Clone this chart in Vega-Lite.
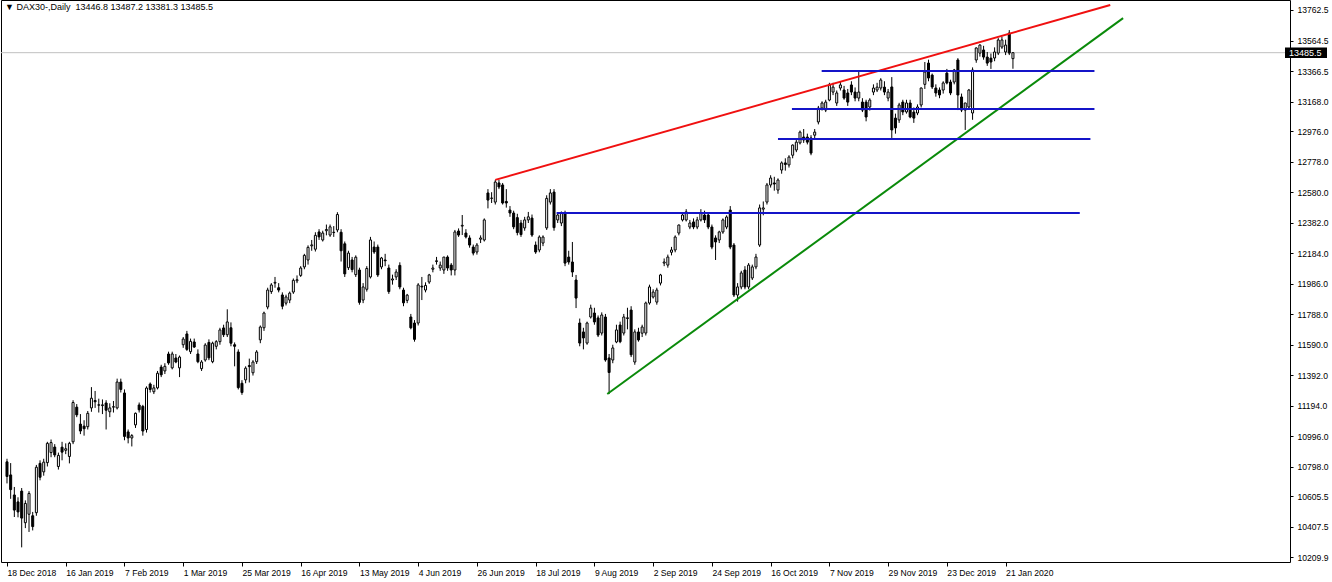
{
"$schema": "https://vega.github.io/schema/vega-lite/v6.json",
"width": 1289, "height": 562,
"autosize": {"type": "none"},
"padding": {"left": 1, "top": 0, "right": 42, "bottom": 20},
"background": "white",
"config": {
"view": {"stroke": "black", "strokeWidth": 1},
"axis": {"labelOverlap": false, "labelFlush": false, "labelBound": false, "domain": false, "grid": false, "tickColor": "black", "tickWidth": 1, "labelFont": "Liberation Sans", "labelFontSize": 8.6, "labelColor": "black", "title": null, "tickCount": 60},
"axisY": {"tickSize": 3, "labelPadding": 4},
"axisX": {"tickSize": 4, "labelAlign": "left", "labelBaseline": "top", "labelPadding": 2}
},
"title": {"text": "▼ DAX30-,Daily\u00a0 13446.8 13487.2 13381.3 13485.5", "anchor": "start", "frame": "group", "offset": -12, "dx": 4, "font": "Liberation Sans", "fontSize": 9, "fontWeight": "normal", "color": "black"},
"datasets": {
"candles": [
{"i":0,"o":10830,"h":10850,"l":10690,"c":10735},
{"i":1,"o":10745,"h":10822,"l":10590,"c":10650},
{"i":2,"o":10615,"h":10667,"l":10472,"c":10517},
{"i":3,"o":10570,"h":10600,"l":10470,"c":10505},
{"i":4,"o":10640,"h":10660,"l":10275,"c":10465},
{"i":5,"o":10435,"h":10580,"l":10400,"c":10560},
{"i":6,"o":10490,"h":10640,"l":10375,"c":10625},
{"i":7,"o":10480,"h":10505,"l":10385,"c":10410},
{"i":8,"o":10500,"h":10810,"l":10480,"c":10795},
{"i":9,"o":10820,"h":10840,"l":10710,"c":10730},
{"i":10,"o":10765,"h":10850,"l":10740,"c":10828},
{"i":11,"o":10825,"h":10960,"l":10800,"c":10950},
{"i":12,"o":10890,"h":10975,"l":10860,"c":10955},
{"i":13,"o":10926,"h":10945,"l":10860,"c":10875},
{"i":14,"o":10800,"h":10890,"l":10780,"c":10872},
{"i":15,"o":10925,"h":10960,"l":10840,"c":10893},
{"i":16,"o":10905,"h":10950,"l":10880,"c":10915},
{"i":17,"o":10865,"h":10960,"l":10820,"c":10950},
{"i":18,"o":10960,"h":11230,"l":10945,"c":11215},
{"i":19,"o":11185,"h":11205,"l":11120,"c":11135},
{"i":20,"o":11075,"h":11140,"l":11010,"c":11030},
{"i":21,"o":11062,"h":11100,"l":11000,"c":11045},
{"i":22,"o":11058,"h":11160,"l":11040,"c":11145},
{"i":23,"o":11180,"h":11315,"l":11155,"c":11243},
{"i":24,"o":11228,"h":11290,"l":11180,"c":11220},
{"i":25,"o":11200,"h":11240,"l":11150,"c":11198},
{"i":26,"o":11195,"h":11235,"l":11140,"c":11200},
{"i":27,"o":11212,"h":11230,"l":11040,"c":11165},
{"i":28,"o":11155,"h":11210,"l":11120,"c":11180},
{"i":29,"o":11185,"h":11225,"l":11150,"c":11188},
{"i":30,"o":11180,"h":11370,"l":11170,"c":11348},
{"i":31,"o":11348,"h":11370,"l":11280,"c":11300},
{"i":32,"o":11277,"h":11300,"l":10970,"c":10995},
{"i":33,"o":11024,"h":11040,"l":10950,"c":10985},
{"i":34,"o":10985,"h":11010,"l":10930,"c":11000},
{"i":35,"o":11070,"h":11150,"l":11050,"c":11145},
{"i":36,"o":11199,"h":11215,"l":11150,"c":11168},
{"i":37,"o":11190,"h":11200,"l":11000,"c":11030},
{"i":38,"o":11040,"h":11320,"l":11020,"c":11309},
{"i":39,"o":11335,"h":11345,"l":11280,"c":11300},
{"i":40,"o":11285,"h":11330,"l":11270,"c":11310},
{"i":41,"o":11310,"h":11420,"l":11300,"c":11405},
{"i":42,"o":11445,"h":11460,"l":11380,"c":11395},
{"i":43,"o":11420,"h":11470,"l":11400,"c":11450},
{"i":44,"o":11530,"h":11545,"l":11460,"c":11472},
{"i":45,"o":11440,"h":11545,"l":11430,"c":11530},
{"i":46,"o":11504,"h":11530,"l":11470,"c":11478},
{"i":47,"o":11440,"h":11520,"l":11380,"c":11510},
{"i":48,"o":11590,"h":11640,"l":11570,"c":11627},
{"i":49,"o":11660,"h":11680,"l":11550,"c":11560},
{"i":50,"o":11545,"h":11630,"l":11530,"c":11612},
{"i":51,"o":11608,"h":11630,"l":11570,"c":11575},
{"i":52,"o":11530,"h":11560,"l":11470,"c":11480},
{"i":53,"o":11435,"h":11490,"l":11420,"c":11478},
{"i":54,"o":11491,"h":11600,"l":11480,"c":11588},
{"i":55,"o":11605,"h":11625,"l":11490,"c":11505},
{"i":56,"o":11480,"h":11610,"l":11470,"c":11600},
{"i":57,"o":11580,"h":11620,"l":11560,"c":11610},
{"i":58,"o":11610,"h":11700,"l":11590,"c":11686},
{"i":59,"o":11699,"h":11720,"l":11640,"c":11655},
{"i":60,"o":11655,"h":11820,"l":11640,"c":11738},
{"i":61,"o":11700,"h":11735,"l":11580,"c":11600},
{"i":62,"o":11590,"h":11605,"l":11450,"c":11580},
{"i":63,"o":11543,"h":11560,"l":11300,"c":11312},
{"i":64,"o":11340,"h":11360,"l":11265,"c":11280},
{"i":65,"o":11362,"h":11450,"l":11340,"c":11438},
{"i":66,"o":11455,"h":11500,"l":11345,"c":11448},
{"i":67,"o":11408,"h":11490,"l":11390,"c":11478},
{"i":68,"o":11480,"h":11555,"l":11465,"c":11543},
{"i":69,"o":11622,"h":11715,"l":11600,"c":11705},
{"i":70,"o":11700,"h":11805,"l":11680,"c":11796},
{"i":71,"o":11835,"h":11960,"l":11820,"c":11945},
{"i":72,"o":11935,"h":11990,"l":11920,"c":11978},
{"i":73,"o":11990,"h":12030,"l":11960,"c":11995},
{"i":74,"o":11960,"h":11990,"l":11930,"c":11945},
{"i":75,"o":11913,"h":11930,"l":11820,"c":11840},
{"i":76,"o":11860,"h":11915,"l":11845,"c":11900},
{"i":77,"o":11880,"h":11935,"l":11860,"c":11925},
{"i":78,"o":11932,"h":12020,"l":11920,"c":12008},
{"i":79,"o":12005,"h":12040,"l":11990,"c":12012},
{"i":80,"o":12040,"h":12100,"l":12030,"c":12088},
{"i":81,"o":12095,"h":12180,"l":12080,"c":12170},
{"i":82,"o":12140,"h":12235,"l":12110,"c":12222},
{"i":83,"o":12232,"h":12270,"l":12200,"c":12238},
{"i":84,"o":12210,"h":12320,"l":12195,"c":12300},
{"i":85,"o":12322,"h":12340,"l":12270,"c":12290},
{"i":86,"o":12270,"h":12330,"l":12260,"c":12315},
{"i":87,"o":12330,"h":12370,"l":12300,"c":12338},
{"i":88,"o":12302,"h":12370,"l":12290,"c":12355},
{"i":89,"o":12320,"h":12360,"l":12290,"c":12318},
{"i":90,"o":12335,"h":12450,"l":12320,"c":12435},
{"i":91,"o":12320,"h":12340,"l":12130,"c":12200},
{"i":92,"o":12245,"h":12260,"l":12030,"c":12050},
{"i":93,"o":12090,"h":12200,"l":12075,"c":12185},
{"i":94,"o":12140,"h":12160,"l":12060,"c":12078},
{"i":95,"o":12045,"h":12170,"l":12030,"c":12158},
{"i":96,"o":12075,"h":12090,"l":11850,"c":11865},
{"i":97,"o":11880,"h":11990,"l":11860,"c":11965},
{"i":98,"o":11950,"h":12100,"l":11935,"c":12085},
{"i":99,"o":12030,"h":12290,"l":12020,"c":12270},
{"i":100,"o":12224,"h":12260,"l":12180,"c":12192},
{"i":101,"o":12224,"h":12240,"l":12030,"c":12043},
{"i":102,"o":12095,"h":12160,"l":12080,"c":12153},
{"i":103,"o":12140,"h":12180,"l":12100,"c":12135},
{"i":104,"o":12088,"h":12110,"l":11920,"c":11935},
{"i":105,"o":12010,"h":12045,"l":11980,"c":12017},
{"i":106,"o":12030,"h":12080,"l":12010,"c":12062},
{"i":107,"o":12105,"h":12125,"l":11950,"c":11965},
{"i":108,"o":11945,"h":11960,"l":11840,"c":11862},
{"i":109,"o":11878,"h":11920,"l":11860,"c":11912},
{"i":110,"o":11770,"h":11790,"l":11690,"c":11700},
{"i":111,"o":11731,"h":11750,"l":11610,"c":11625},
{"i":112,"o":11731,"h":11990,"l":11715,"c":11978},
{"i":113,"o":11970,"h":12030,"l":11880,"c":11965},
{"i":114,"o":11945,"h":11995,"l":11930,"c":11975},
{"i":115,"o":11997,"h":12050,"l":11985,"c":12043},
{"i":116,"o":12080,"h":12110,"l":12060,"c":12088},
{"i":117,"o":12130,"h":12160,"l":12110,"c":12135},
{"i":118,"o":12088,"h":12130,"l":12070,"c":12107},
{"i":119,"o":12075,"h":12160,"l":12050,"c":12159},
{"i":120,"o":12159,"h":12170,"l":12070,"c":12088},
{"i":121,"o":12107,"h":12120,"l":12040,"c":12075},
{"i":122,"o":12075,"h":12335,"l":12040,"c":12322},
{"i":123,"o":12328,"h":12345,"l":12290,"c":12302},
{"i":124,"o":12360,"h":12432,"l":12302,"c":12365},
{"i":125,"o":12315,"h":12340,"l":12280,"c":12290},
{"i":126,"o":12283,"h":12300,"l":12220,"c":12237},
{"i":127,"o":12224,"h":12240,"l":12170,"c":12185},
{"i":128,"o":12192,"h":12250,"l":12175,"c":12237},
{"i":129,"o":12275,"h":12300,"l":12250,"c":12283},
{"i":130,"o":12270,"h":12410,"l":12260,"c":12400},
{"i":131,"o":12575,"h":12600,"l":12475,"c":12529},
{"i":132,"o":12540,"h":12580,"l":12510,"c":12542},
{"i":133,"o":12516,"h":12660,"l":12500,"c":12646},
{"i":134,"o":12640,"h":12660,"l":12600,"c":12614},
{"i":135,"o":12627,"h":12640,"l":12500,"c":12510},
{"i":136,"o":12520,"h":12600,"l":12480,"c":12510},
{"i":137,"o":12464,"h":12490,"l":12420,"c":12445},
{"i":138,"o":12445,"h":12460,"l":12340,"c":12355},
{"i":139,"o":12415,"h":12440,"l":12300,"c":12318},
{"i":140,"o":12380,"h":12400,"l":12290,"c":12305},
{"i":141,"o":12348,"h":12420,"l":12330,"c":12400},
{"i":142,"o":12400,"h":12452,"l":12380,"c":12420},
{"i":143,"o":12412,"h":12435,"l":12290,"c":12302},
{"i":144,"o":12237,"h":12260,"l":12180,"c":12192},
{"i":145,"o":12205,"h":12300,"l":12190,"c":12289},
{"i":146,"o":12250,"h":12300,"l":12230,"c":12289},
{"i":147,"o":12348,"h":12560,"l":12335,"c":12540},
{"i":148,"o":12516,"h":12600,"l":12500,"c":12575},
{"i":149,"o":12581,"h":12600,"l":12330,"c":12350},
{"i":150,"o":12400,"h":12440,"l":12380,"c":12432},
{"i":151,"o":12380,"h":12455,"l":12360,"c":12445},
{"i":152,"o":12445,"h":12460,"l":12100,"c":12120},
{"i":153,"o":12159,"h":12200,"l":12110,"c":12127},
{"i":154,"o":12127,"h":12257,"l":12030,"c":12062},
{"i":155,"o":12010,"h":12043,"l":11828,"c":11893},
{"i":156,"o":11731,"h":11760,"l":11580,"c":11601},
{"i":157,"o":11673,"h":11700,"l":11560,"c":11634},
{"i":158,"o":11601,"h":11740,"l":11590,"c":11731},
{"i":159,"o":11770,"h":11850,"l":11760,"c":11828},
{"i":160,"o":11796,"h":11830,"l":11720,"c":11738},
{"i":161,"o":11764,"h":11780,"l":11640,"c":11653},
{"i":162,"o":11666,"h":11800,"l":11650,"c":11783},
{"i":163,"o":11770,"h":11790,"l":11480,"c":11491},
{"i":164,"o":11504,"h":11530,"l":11270,"c":11410},
{"i":165,"o":11491,"h":11590,"l":11470,"c":11569},
{"i":166,"o":11608,"h":11720,"l":11600,"c":11686},
{"i":167,"o":11718,"h":11740,"l":11600,"c":11610},
{"i":168,"o":11666,"h":11790,"l":11650,"c":11770},
{"i":169,"o":11760,"h":11830,"l":11690,"c":11765},
{"i":170,"o":11815,"h":11840,"l":11510,"c":11525},
{"i":171,"o":11478,"h":11690,"l":11460,"c":11673},
{"i":172,"o":11673,"h":11700,"l":11610,"c":11621},
{"i":173,"o":11665,"h":11720,"l":11640,"c":11705},
{"i":174,"o":11666,"h":11870,"l":11650,"c":11861},
{"i":175,"o":11861,"h":11980,"l":11850,"c":11965},
{"i":176,"o":11900,"h":11950,"l":11890,"c":11932},
{"i":177,"o":11867,"h":11960,"l":11850,"c":11945},
{"i":178,"o":11990,"h":12050,"l":11975,"c":12043},
{"i":179,"o":12120,"h":12150,"l":12100,"c":12127},
{"i":180,"o":12107,"h":12175,"l":12090,"c":12159},
{"i":181,"o":12190,"h":12225,"l":12170,"c":12205},
{"i":182,"o":12205,"h":12300,"l":12190,"c":12289},
{"i":183,"o":12315,"h":12370,"l":12300,"c":12367},
{"i":184,"o":12400,"h":12440,"l":12390,"c":12432},
{"i":185,"o":12400,"h":12470,"l":12390,"c":12452},
{"i":186,"o":12354,"h":12400,"l":12340,"c":12380},
{"i":187,"o":12387,"h":12410,"l":12340,"c":12354},
{"i":188,"o":12354,"h":12420,"l":12340,"c":12400},
{"i":189,"o":12400,"h":12470,"l":12390,"c":12445},
{"i":190,"o":12432,"h":12460,"l":12380,"c":12400},
{"i":191,"o":12432,"h":12450,"l":12340,"c":12354},
{"i":192,"o":12354,"h":12370,"l":12210,"c":12224},
{"i":193,"o":12283,"h":12300,"l":12140,"c":12257},
{"i":194,"o":12270,"h":12330,"l":12250,"c":12322},
{"i":195,"o":12322,"h":12410,"l":12310,"c":12400},
{"i":196,"o":12354,"h":12430,"l":12340,"c":12419},
{"i":197,"o":12464,"h":12490,"l":12210,"c":12224},
{"i":198,"o":12237,"h":12250,"l":11900,"c":11913},
{"i":199,"o":11913,"h":11990,"l":11870,"c":11965},
{"i":200,"o":11965,"h":12070,"l":11950,"c":12056},
{"i":201,"o":12075,"h":12100,"l":11950,"c":11965},
{"i":202,"o":11965,"h":12120,"l":11950,"c":12107},
{"i":203,"o":12023,"h":12110,"l":12010,"c":12095},
{"i":204,"o":12095,"h":12180,"l":12080,"c":12159},
{"i":205,"o":12237,"h":12500,"l":12225,"c":12478},
{"i":206,"o":12470,"h":12520,"l":12430,"c":12478},
{"i":207,"o":12516,"h":12640,"l":12500,"c":12627},
{"i":208,"o":12627,"h":12690,"l":12610,"c":12672},
{"i":209,"o":12640,"h":12680,"l":12590,"c":12633},
{"i":210,"o":12594,"h":12670,"l":12570,"c":12659},
{"i":211,"o":12724,"h":12780,"l":12700,"c":12770},
{"i":212,"o":12770,"h":12800,"l":12720,"c":12760},
{"i":213,"o":12757,"h":12820,"l":12740,"c":12808},
{"i":214,"o":12820,"h":12890,"l":12800,"c":12886},
{"i":215,"o":12854,"h":12920,"l":12840,"c":12905},
{"i":216,"o":12900,"h":12980,"l":12890,"c":12970},
{"i":217,"o":12938,"h":12990,"l":12900,"c":12919},
{"i":218,"o":12938,"h":12960,"l":12890,"c":12905},
{"i":219,"o":12932,"h":12950,"l":12820,"c":12834},
{"i":220,"o":12950,"h":12990,"l":12930,"c":12970},
{"i":221,"o":13036,"h":13140,"l":13020,"c":13126},
{"i":222,"o":13126,"h":13170,"l":13110,"c":13159},
{"i":223,"o":13113,"h":13180,"l":13100,"c":13165},
{"i":224,"o":13178,"h":13290,"l":13170,"c":13276},
{"i":225,"o":13230,"h":13290,"l":13210,"c":13262},
{"i":226,"o":13159,"h":13240,"l":13140,"c":13224},
{"i":227,"o":13256,"h":13300,"l":13240,"c":13276},
{"i":228,"o":13243,"h":13270,"l":13180,"c":13191},
{"i":229,"o":13224,"h":13250,"l":13140,"c":13165},
{"i":230,"o":13276,"h":13300,"l":13210,"c":13230},
{"i":231,"o":13230,"h":13260,"l":13170,"c":13191},
{"i":232,"o":13191,"h":13360,"l":13170,"c":13230},
{"i":233,"o":13165,"h":13190,"l":13100,"c":13113},
{"i":234,"o":13165,"h":13180,"l":13040,"c":13068},
{"i":235,"o":13133,"h":13190,"l":13110,"c":13178},
{"i":236,"o":13230,"h":13280,"l":13210,"c":13256},
{"i":237,"o":13243,"h":13290,"l":13230,"c":13262},
{"i":238,"o":13256,"h":13320,"l":13240,"c":13308},
{"i":239,"o":13262,"h":13300,"l":13210,"c":13230},
{"i":240,"o":13191,"h":13250,"l":13170,"c":13230},
{"i":241,"o":13263,"h":13327,"l":12932,"c":12984},
{"i":242,"o":13061,"h":13090,"l":12960,"c":12997},
{"i":243,"o":13049,"h":13160,"l":13030,"c":13146},
{"i":244,"o":13165,"h":13180,"l":13080,"c":13101},
{"i":245,"o":13101,"h":13180,"l":13090,"c":13159},
{"i":246,"o":13159,"h":13180,"l":13060,"c":13068},
{"i":247,"o":13100,"h":13130,"l":13030,"c":13061},
{"i":248,"o":13094,"h":13150,"l":13080,"c":13133},
{"i":249,"o":13146,"h":13260,"l":13130,"c":13256},
{"i":250,"o":13280,"h":13425,"l":13250,"c":13360},
{"i":251,"o":13418,"h":13440,"l":13300,"c":13321},
{"i":252,"o":13340,"h":13350,"l":13250,"c":13263},
{"i":253,"o":13256,"h":13280,"l":13200,"c":13224},
{"i":254,"o":13243,"h":13260,"l":13190,"c":13211},
{"i":255,"o":13243,"h":13300,"l":13220,"c":13289},
{"i":256,"o":13353,"h":13380,"l":13280,"c":13289},
{"i":257,"o":13295,"h":13310,"l":13210,"c":13224},
{"i":258,"o":13295,"h":13380,"l":13280,"c":13373},
{"i":259,"o":13438,"h":13450,"l":13113,"c":13211},
{"i":260,"o":13198,"h":13220,"l":13100,"c":13113},
{"i":261,"o":13113,"h":13160,"l":12984,"c":13159},
{"i":262,"o":13133,"h":13250,"l":13120,"c":13243},
{"i":263,"o":13094,"h":13390,"l":13050,"c":13373},
{"i":264,"o":13438,"h":13520,"l":13420,"c":13516},
{"i":265,"o":13483,"h":13540,"l":13460,"c":13535},
{"i":266,"o":13503,"h":13530,"l":13440,"c":13457},
{"i":267,"o":13457,"h":13490,"l":13400,"c":13418},
{"i":268,"o":13450,"h":13480,"l":13380,"c":13425},
{"i":269,"o":13451,"h":13520,"l":13430,"c":13490},
{"i":270,"o":13483,"h":13580,"l":13470,"c":13568},
{"i":271,"o":13522,"h":13590,"l":13510,"c":13568},
{"i":272,"o":13490,"h":13570,"l":13470,"c":13535},
{"i":273,"o":13613,"h":13632,"l":13470,"c":13483},
{"i":274,"o":13446.8,"h":13487.2,"l":13381.3,"c":13485.5}
],
"lines": [
{"name":"red","i":133,"p":12660},{"name":"red","i":300.5,"p":13795},
{"name":"green","i":163.5,"p":11270},{"name":"green","i":304,"p":13710},
{"name":"blue1","i":221.9,"p":13366},{"name":"blue1","i":296.2,"p":13366},
{"name":"blue2","i":213.8,"p":13120},{"name":"blue2","i":296.2,"p":13120},
{"name":"blue3","i":210,"p":12925},{"name":"blue3","i":295.1,"p":12925},
{"name":"blue4","i":149.7,"p":12445},{"name":"blue4","i":292.2,"p":12445}
],
"bid": [{"i":348.1,"p":13485.5,"t":"13485.5"}]
},
"layer": [
{
"data": {"name": "bid"},
"mark": {"type": "rule", "color": "#c0c0c0", "strokeWidth": 1},
"encoding": {
"y": {"field": "p", "type": "quantitative", "title": null,
"scale": {"domain": [10180, 13827.4], "nice": false, "zero": false},
"axis": {"orient": "right", "tickCount": 60, "values": [13762.5,13564.5,13366.5,13168.0,12976.0,12778.0,12580.0,12382.0,12184.0,11986.0,11788.0,11590.0,11392.0,11194.0,10996.0,10798.0,10605.5,10407.5,10209.9], "format": ".1f", "labelOverlap": false}}
}
},
{
"data": {"name": "candles"},
"mark": {"type": "rule", "color": "black", "strokeWidth": 1},
"encoding": {
"x": {"field": "i", "type": "quantitative", "title": null,
"scale": {"domain": [-0.27, 348.1], "nice": false, "zero": false},
"axis": {"orient": "bottom", "tickCount": 60, "values": [0,16,32,48,64,80,96,112,128,144,160,176,192,208,224,240,256,272], "labelExpr": "['18 Dec 2018','16 Jan 2019','7 Feb 2019','1 Mar 2019','25 Mar 2019','16 Apr 2019','13 May 2019','4 Jun 2019','26 Jun 2019','18 Jul 2019','9 Aug 2019','2 Sep 2019','24 Sep 2019','16 Oct 2019','7 Nov 2019','29 Nov 2019','23 Dec 2019','21 Jan 2020'][round(datum.value/16)]", "labelOverlap": false}},
"y": {"field": "l", "type": "quantitative", "title": null, "scale": {"domain": [10180, 13827.4], "nice": false, "zero": false}, "axis": {"orient": "right", "tickCount": 60, "values": [13762.5,13564.5,13366.5,13168.0,12976.0,12778.0,12580.0,12382.0,12184.0,11986.0,11788.0,11590.0,11392.0,11194.0,10996.0,10798.0,10605.5,10407.5,10209.9], "format": ".1f", "labelOverlap": false}},
"y2": {"field": "h"}
}
},
{
"data": {"name": "candles"},
"mark": {"type": "bar", "width": 2, "stroke": "black", "strokeWidth": 1},
"encoding": {
"x": {"field": "i", "type": "quantitative", "title": null, "scale": {"domain": [-0.27, 348.1], "nice": false, "zero": false}},
"y": {"field": "o", "type": "quantitative", "title": null, "scale": {"domain": [10180, 13827.4], "nice": false, "zero": false}},
"y2": {"field": "c"},
"fill": {"condition": {"test": "datum.c >= datum.o", "value": "white"}, "value": "black"}
}
},
{
"data": {"name": "lines"},
"mark": {"type": "line", "strokeWidth": 2, "clip": true},
"encoding": {
"x": {"field": "i", "type": "quantitative", "title": null, "scale": {"domain": [-0.27, 348.1], "nice": false, "zero": false}},
"y": {"field": "p", "type": "quantitative", "title": null, "scale": {"domain": [10180, 13827.4], "nice": false, "zero": false}},
"color": {"field": "name", "type": "nominal", "legend": null, "scale": {"domain": ["red","green","blue1","blue2","blue3","blue4"], "range": ["#f01010","#0a8a0a","#1414c8","#1414c8","#1414c8","#1414c8"]}}
}
},
{
"data": {"name": "bid"},
"mark": {"type": "point", "shape": "M0,-0.25L2,-0.25L2,0.25L0,0.25Z", "size": 1764, "filled": true, "color": "black", "opacity": 1, "strokeWidth": 0},
"encoding": {
"x": {"field": "i", "type": "quantitative", "title": null, "scale": {"domain": [-0.27, 348.1], "nice": false, "zero": false}},
"y": {"field": "p", "type": "quantitative", "title": null, "scale": {"domain": [10180, 13827.4], "nice": false, "zero": false}}
}
},
{
"data": {"name": "bid"},
"mark": {"type": "text", "align": "left", "baseline": "middle", "dx": 4, "color": "white", "font": "Liberation Sans", "fontSize": 9},
"encoding": {
"x": {"field": "i", "type": "quantitative", "title": null, "scale": {"domain": [-0.27, 348.1], "nice": false, "zero": false}},
"y": {"field": "p", "type": "quantitative", "title": null, "scale": {"domain": [10180, 13827.4], "nice": false, "zero": false}},
"text": {"field": "t"}
}
}
]
}
